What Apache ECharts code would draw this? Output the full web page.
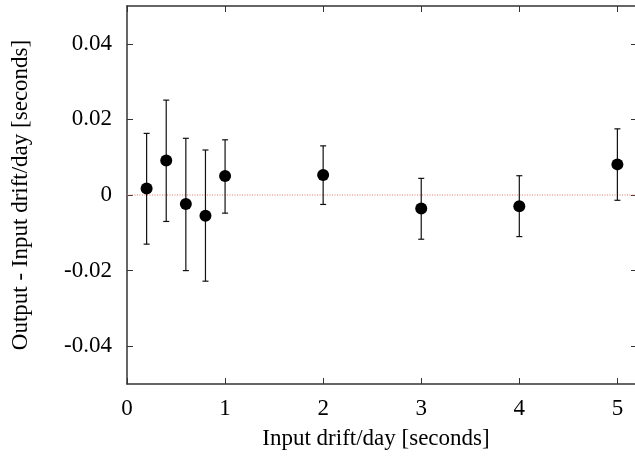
<!DOCTYPE html>
<html>
<head>
<meta charset="utf-8">
<script src="https://cdn.jsdelivr.net/npm/echarts@6/dist/echarts.min.js"></script>
<style>html,body{margin:0;padding:0;background:#fff;}#c{width:635px;height:457px;}</style>
</head>
<body>
<div id="c"></div>
<script>
// Data
var inputDrift = [0.2, 0.4, 0.6, 0.8, 1.0, 2.0, 3.0, 4.0, 5.0];
var meanDiff   = [0.0017, 0.0091, -0.0024, -0.0055, 0.0050, 0.0053, -0.0036, -0.0030, 0.0081];
var errLow     = [-0.0130, -0.0070, -0.0200, -0.0228, -0.0048, -0.0025, -0.0117, -0.0110, -0.0014];
var errHigh    = [0.0163, 0.0251, 0.0150, 0.0119, 0.0146, 0.0130, 0.0044, 0.0051, 0.0175];
var xTicks = [0, 1, 2, 3, 4, 5];
var yTicks = [-0.04, -0.02, 0, 0.02, 0.04];

var points = inputDrift.map(function (x, i) { return [x, meanDiff[i]]; });
var bars = inputDrift.map(function (x, i) { return [x, errLow[i], errHigh[i]]; });

var font = 'Liberation Serif';
var fs = 23;
var axisColor = '#333';
var chart = echarts.init(document.getElementById('c'));
var lineStyle = { color: axisColor, width: 1.5 };
function ticks(vals) {
  return { show: true, inside: true, length: 6, customValues: vals, lineStyle: { color: axisColor, width: 1 } };
}
function yFmt(v) {
  var r = Math.round(v * 100) / 100;
  return r === 0 ? '0' : r.toFixed(2);
}

chart.setOption({
  animation: false,
  grid: { left: 127, top: 6, width: 510, height: 378, containLabel: false, outerBoundsMode: 'none' },
  xAxis: [
    {
      type: 'value', min: 0, max: 5.2, position: 'bottom',
      axisLine: { show: true, onZero: false, lineStyle: lineStyle },
      axisTick: ticks(xTicks),
      splitLine: { show: false },
      axisLabel: { fontFamily: font, fontSize: fs, color: '#000', margin: 13, customValues: xTicks },
      name: 'Input drift/day [seconds]', nameLocation: 'middle', nameGap: 43,
      nameTextStyle: { fontFamily: font, fontSize: fs, color: '#000', padding: [0, 12, 0, 0] }
    },
    {
      type: 'value', min: 0, max: 5.2, position: 'top',
      axisLine: { show: true, onZero: false, lineStyle: lineStyle },
      axisTick: ticks(xTicks), axisLabel: { show: false }, splitLine: { show: false }
    }
  ],
  yAxis: [
    {
      type: 'value', min: -0.05, max: 0.05, position: 'left',
      axisLine: { show: true, onZero: false, lineStyle: lineStyle },
      axisTick: ticks(yTicks),
      splitLine: { show: false },
      axisLabel: {
        fontFamily: font, fontSize: fs, color: '#000', margin: 15,
        customValues: yTicks, formatter: yFmt
      },
      name: 'Output - Input drift/day [seconds]', nameLocation: 'middle', nameGap: 95,
      nameTextStyle: { fontFamily: font, fontSize: fs, color: '#000' }
    },
    {
      type: 'value', min: -0.05, max: 0.05, position: 'right',
      axisLine: { show: false, onZero: false, lineStyle: lineStyle },
      axisTick: ticks(yTicks), axisLabel: { show: false }, splitLine: { show: false }
    }
  ],
  series: [
    {
      type: 'line', data: [[0, 0], [5.2, 0]], symbol: 'none', silent: true,
      lineStyle: { color: '#e8706a', width: 1, type: [1, 1.5] }, z: 1
    },
    {
      type: 'custom', data: bars, z: 2,
      renderItem: function (params, api) {
        var x = api.value(0);
        var lo = api.coord([x, api.value(1)]);
        var hi = api.coord([x, api.value(2)]);
        var cw = 3;
        var st = { stroke: '#111', lineWidth: 1.2 };
        return {
          type: 'group',
          children: [
            { type: 'line', shape: { x1: lo[0], y1: lo[1], x2: hi[0], y2: hi[1] }, style: st },
            { type: 'line', shape: { x1: lo[0] - cw, y1: lo[1], x2: lo[0] + cw, y2: lo[1] }, style: st },
            { type: 'line', shape: { x1: hi[0] - cw, y1: hi[1], x2: hi[0] + cw, y2: hi[1] }, style: st }
          ]
        };
      }
    },
    {
      type: 'scatter', data: points, symbol: 'circle', symbolSize: 12, z: 3,
      itemStyle: { color: '#000', opacity: 1 }
    }
  ]
});
</script>
</body>
</html>
